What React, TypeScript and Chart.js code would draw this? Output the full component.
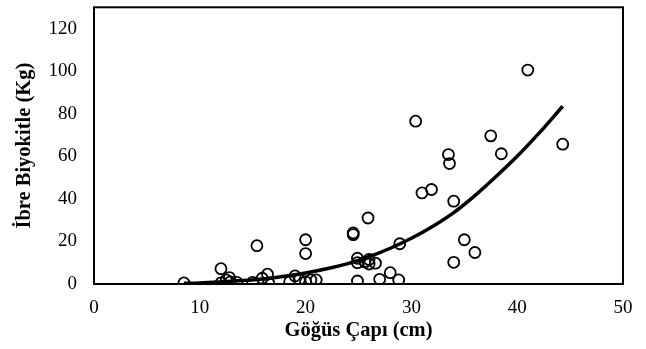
import React, { useEffect, useRef } from "react";
import { Chart, registerables } from "chart.js";

Chart.register(...registerables);

// Observed data: chest diameter (cm) vs needle biomass (kg)
const diameterCm = [
  8.5, 12.0, 12.0, 12.5, 12.8, 12.9, 13.5, 15.0, 15.4, 15.9, 16.4, 16.5,
  18.5, 19.0, 19.4, 20.0, 20.0, 20.0, 20.5, 21.0, 24.5, 24.5, 25.9, 24.9,
  24.9, 25.6, 26.0, 26.0, 26.6, 24.9, 27.0, 28.0, 28.8, 28.9, 30.4, 31.0,
  31.9, 33.5, 33.6, 34.0, 34.0, 35.0, 36.0, 37.5, 38.5, 41.0, 44.3,
];
const biomassKg = [
  0.5, 7.2, 0.5, 1.9, 3.0, 1.0, 0.8, 0.8, 18.0, 2.7, 4.6, 0.5,
  1.1, 3.8, 1.9, 20.8, 14.3, 1.1, 1.9, 1.9, 24.0, 23.2, 31.0, 12.1,
  10.0, 10.4, 11.5, 9.4, 9.8, 1.4, 2.2, 5.3, 1.9, 18.9, 76.5, 42.8,
  44.4, 60.8, 56.6, 38.9, 10.2, 20.8, 14.8, 69.6, 61.2, 100.5, 65.7,
];

// Trend curve
const trendX = [8.5, 10, 12, 14, 16, 18, 20, 22, 24, 26, 28, 30, 32, 34, 36, 38, 40, 42, 44.3];
const trendY = [0.3, 0.5, 1.0, 1.6, 2.4, 3.6, 5.2, 7.2, 9.6, 12.8, 16.8, 21.5, 27.0, 33.5, 41.5, 50.5, 60.0, 70.5, 83.5];

const xTicks = [0, 10, 20, 30, 40, 50];
const yTicks = [0, 20, 40, 60, 80, 100, 120];

const xTitle = "Göğüs Çapı (cm)";
const yTitle = "İbre Biyokitle (Kg)";

const FONT = "'Liberation Serif', 'Times New Roman', serif";

const boxPlugin = {
  id: "boxPlugin",
  afterDatasetsDraw(chart: any) {
    const { ctx, chartArea } = chart;
    ctx.save();
    ctx.strokeStyle = "#000";
    ctx.lineWidth = 2;
    ctx.strokeRect(chartArea.left, chartArea.top, chartArea.right - chartArea.left, chartArea.bottom - chartArea.top);
    ctx.restore();
  },
};

export default function App() {
  const ref = useRef<HTMLCanvasElement | null>(null);

  useEffect(() => {
    document.body.style.margin = "0";
    const canvas = ref.current;
    if (!canvas) return;
    const points = diameterCm.map((x, i) => ({ x, y: biomassKg[i] }));
    const trend = trendX.map((x, i) => ({ x, y: trendY[i] }));
    const chart = new Chart(canvas, {
      type: "scatter",
      data: {
        datasets: [
          {
            data: trend,
            showLine: true,
            borderColor: "#000",
            borderWidth: 3.5,
            pointRadius: 0,
            cubicInterpolationMode: "monotone",
            order: 2,
          } as any,
          {
            data: points,
            pointRadius: 5.5,
            pointBorderWidth: 1.8,
            pointBorderColor: "#000",
            pointBackgroundColor: "rgba(255,255,255,0)",
            borderColor: "#000",
            backgroundColor: "rgba(255,255,255,0)",
            order: 1,
          } as any,
        ],
      },
      options: {
        animation: false,
        responsive: false,
        maintainAspectRatio: false,
        layout: { padding: { left: 0, right: 23, top: 7, bottom: 0 } },
        plugins: { legend: { display: false }, tooltip: { enabled: false } },
        scales: {
          x: {
            type: "linear",
            min: 0,
            max: 50,
            afterBuildTicks: (s: any) => {
              s.ticks = xTicks.map((v) => ({ value: v }));
            },
            afterFit: (s: any) => {
              s.height = 65;
              s.paddingLeft = 0;
              s.paddingRight = 0;
            },
            grid: { display: false, drawTicks: false },
            border: { display: false },
            ticks: { color: "#000", font: { family: FONT, size: 19 }, padding: 13, maxRotation: 0 },
            title: {
              display: true,
              text: xTitle,
              color: "#000",
              font: { family: FONT, size: 20.5, weight: "bold" },
              padding: { top: 0, bottom: 6 },
            },
          },
          y: {
            type: "linear",
            min: 0,
            max: 130,
            afterBuildTicks: (s: any) => {
              s.ticks = yTicks.map((v) => ({ value: v }));
            },
            afterFit: (s: any) => {
              s.width = 94;
              s.paddingTop = 0;
              s.paddingBottom = 0;
            },
            grid: { display: false, drawTicks: false },
            border: { display: false },
            ticks: { color: "#000", font: { family: FONT, size: 19 }, padding: 17 },
            title: {
              display: true,
              text: yTitle,
              color: "#000",
              font: { family: FONT, size: 20.5, weight: "bold" },
              padding: { top: 12, bottom: 0 },
            },
          },
        },
      },
      plugins: [boxPlugin],
    });
    return () => chart.destroy();
  }, []);

  return (
    <div style={{ width: 646, height: 349, background: "#fff" }}>
      <canvas ref={ref} width={646} height={349} style={{ display: "block" }} />
    </div>
  );
}
